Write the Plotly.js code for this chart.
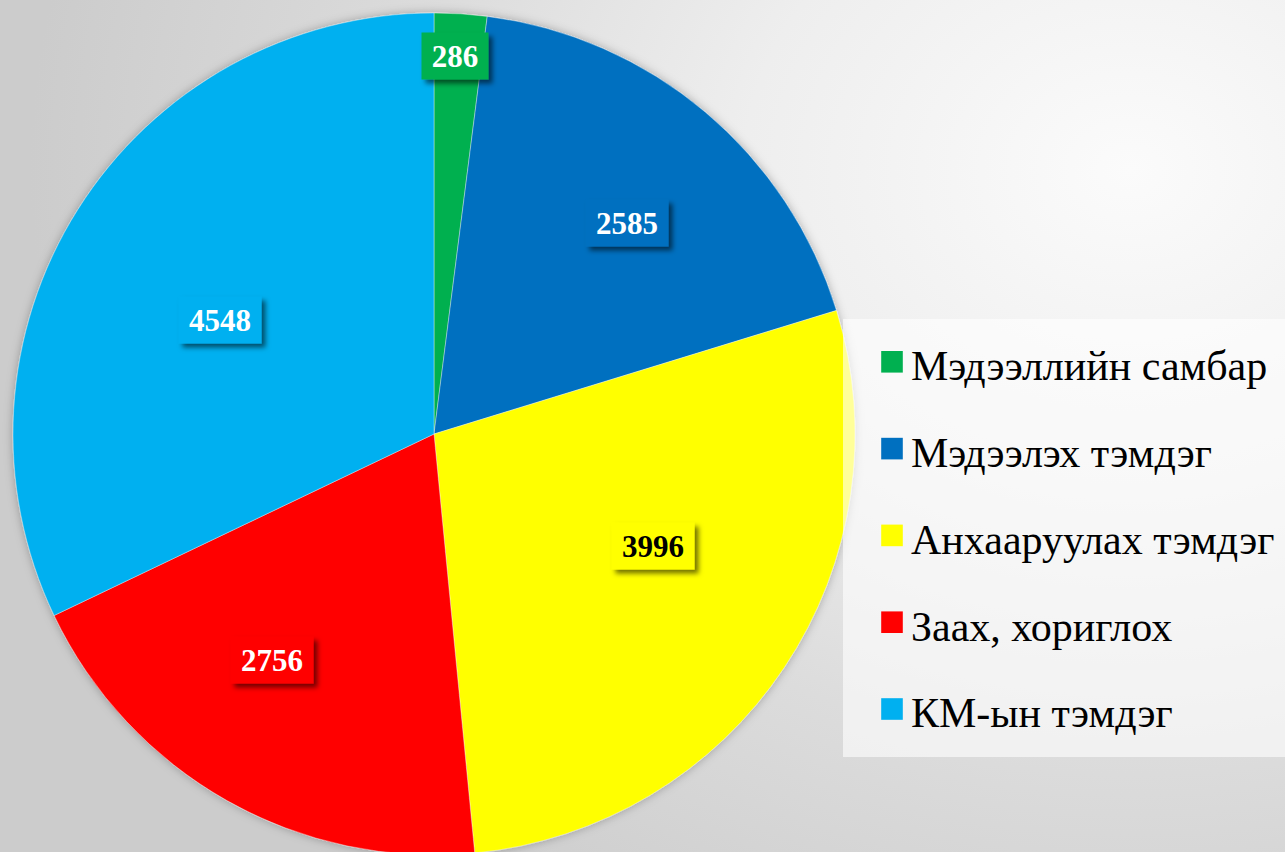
<!DOCTYPE html>
<html>
<head>
<meta charset="utf-8">
<script src="https://cdn.plot.ly/plotly-3.0.1.min.js"></script>
<style>
  html, body { margin:0; padding:0; overflow:hidden; width:1285px; height:852px; }
  body { background: radial-gradient(ellipse 1100px 900px at 1130px 170px, #fbfbfb 0%, #eeeeee 35%, #dcdcdc 65%, #cccccc 100%); }
  #chart { width:1285px; height:870px; }
</style>
</head>
<body>
<div id="chart"></div>
<script>
const labels = ['Мэдээллийн самбар', 'Мэдээлэх тэмдэг', 'Анхааруулах тэмдэг', 'Заах, хориглох', 'КМ-ын тэмдэг'];
const values = [286, 2585, 3996, 2756, 4548];
const colors = ['#00B050', '#0070C0', '#FFFF00', '#FF0000', '#00B0F0'];
const labelTextColors = ['#FFFFFF', '#FFFFFF', '#000000', '#FFFFFF', '#FFFFFF'];

// label placement style (radial fraction of radius, angle nudge in degrees)
const labelRadius = [0.90, 0.68, 0.584, 0.66, 0.576];
const labelAngleNudge = [-0.45, 2.4, -6.6, 6.1, -4.2];

const W = 1285, H = 870;
const cxPx = 434, cyPx = 434, rPx = 421;
const SERIF = 'Liberation Serif';

const total = values.reduce((a, b) => a + b, 0);
let cum = 0;
const annotations = values.map((v, i) => {
  const mid = (cum + v / 2) / total * 360 + labelAngleNudge[i];
  cum += v;
  const a = mid * Math.PI / 180;
  const px = cxPx + Math.sin(a) * rPx * labelRadius[i];
  const py = cyPx - Math.cos(a) * rPx * labelRadius[i];
  return {
    xref: 'paper', yref: 'paper',
    x: px / W, y: 1 - py / H,
    xanchor: 'center', yanchor: 'middle',
    text: '<b>' + v + '</b>',
    showarrow: false,
    font: { family: SERIF, size: 31, color: labelTextColors[i] },
    bgcolor: colors[i],
    width: 18 + String(v).length * 16,
    height: 46,
    borderpad: 0
  };
});

const trace = {
  type: 'pie',
  labels: labels,
  values: values,
  sort: false,
  direction: 'clockwise',
  rotation: 0,
  marker: { colors: colors, line: { width: 0.6, color: 'rgba(255,255,255,0.6)' } },
  textinfo: 'none',
  hoverinfo: 'label+value',
  domain: { x: [(cxPx - rPx) / W, (cxPx + rPx) / W], y: [1 - (cyPx + rPx) / H, 1 - (cyPx - rPx) / H] }
};

const layout = {
  width: W, height: H,
  margin: { l: 0, r: 0, t: 0, b: 0 },
  paper_bgcolor: 'rgba(0,0,0,0)',
  plot_bgcolor: 'rgba(0,0,0,0)',
  font: { family: SERIF },
  showlegend: true,
  legend: {
    x: 871 / W, y: 1 - 330 / H, xanchor: 'left', yanchor: 'top',
    bgcolor: 'rgba(0,0,0,0)',
    font: { family: SERIF, size: 42, color: '#000000' },
    traceorder: 'normal'
  },
  shapes: [{
    type: 'rect', xref: 'paper', yref: 'paper', layer: 'above',
    x0: 843 / W, x1: 1.01, y0: 1 - 757 / H, y1: 1 - 319 / H,
    fillcolor: 'rgba(255,255,255,0.6)', line: { width: 0 }
  }],
  annotations: annotations
};

Plotly.newPlot('chart', [trace], layout, { displayModeBar: false, staticPlot: true }).then(gd => {
  const NS = 'http://www.w3.org/2000/svg';
  const svg = gd.querySelector('svg.main-svg');
  let defs = svg.querySelector('defs');
  function mkShadow(id, dx, dy, sd, op) {
    const f = document.createElementNS(NS, 'filter');
    f.setAttribute('id', id);
    f.setAttribute('x', '-30%'); f.setAttribute('y', '-30%');
    f.setAttribute('width', '160%'); f.setAttribute('height', '160%');
    const s = document.createElementNS(NS, 'feDropShadow');
    s.setAttribute('dx', dx); s.setAttribute('dy', dy);
    s.setAttribute('stdDeviation', sd);
    s.setAttribute('flood-color', '#000');
    s.setAttribute('flood-opacity', op);
    f.appendChild(s);
    defs.appendChild(f);
  }
  mkShadow('lblShadow', 4, 4, 2.5, 0.55);
  mkShadow('pieShadow', 0, 0, 5, 0.28);
  gd.querySelectorAll('.annotation rect.bg').forEach(r => r.setAttribute('filter', 'url(#lblShadow)'));
  const pl = gd.querySelector('.pielayer');
  if (pl) pl.setAttribute('filter', 'url(#pieShadow)');

  // legend spacing / symbol size as in the reference
  const items = gd.querySelectorAll('.legend .traces');
  const step = 86.8;
  let x0 = null, y0 = null;
  items.forEach((g, i) => {
    const m = /translate\(([-\d.]+),\s*([-\d.]+)\)/.exec(g.getAttribute('transform') || '');
    if (m && x0 === null) { x0 = parseFloat(m[1]); y0 = parseFloat(m[2]); }
    g.setAttribute('transform', 'translate(' + x0 + ',' + (y0 + i * step) + ')');
    g.querySelectorAll('.legendpoints path').forEach(p => {
      p.setAttribute('transform', 'translate(21,-2) scale(1.8)');
      p.style.strokeWidth = '0';
    });
  });
  gd.querySelectorAll('.legend [clip-path]').forEach(e => e.removeAttribute('clip-path'));
  const bg = gd.querySelector('.legend rect.bg');
  if (bg) bg.setAttribute('height', '600');
});
</script>
</body>
</html>
